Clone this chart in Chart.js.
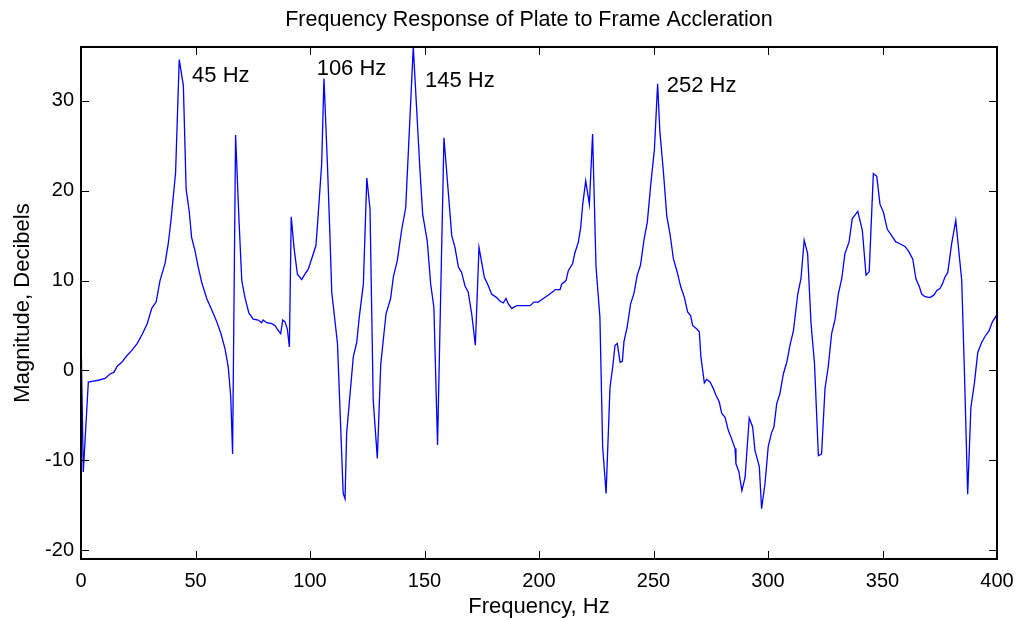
<!DOCTYPE html>
<html>
<head>
<meta charset="utf-8">
<script src="https://cdn.jsdelivr.net/npm/chart.js@4/dist/chart.umd.min.js"></script>
<style>
html,body{margin:0;padding:0;background:#fff;}
#wrap{width:1020px;height:620px;}
</style>
</head>
<body>
<div id="wrap"><canvas id="c" width="1020" height="620"></canvas></div>
<script>
const titleText = "Frequency Response of Plate to Frame Accleration";
const xTitle = "Frequency, Hz";
const yTitle = "Magnitude, Decibels";
const xTicks = [0, 50, 100, 150, 200, 250, 300, 350, 400];
const yTicks = [-20, -10, 0, 10, 20, 30];

const freq = [0,1,3.2,5.4,7.6,10.5,12.7,14.4,15.9,17.8,19.9,22.1,24.6,26.9,28.9,30.9,32.8,34.5,36.7,38.1,39.3,41.3,42.9,44.7,45.9,47.3,48.3,49.8,51.2,52.7,54.9,57.5,59.3,61.1,62.9,64.3,65.4,66.2,67.5,69.0,70.2,71.6,73.3,75.2,77.4,78.9,79.5,81.1,83.3,84.7,85.7,87.2,88.1,89.1,90.1,91.0,91.8,93.0,94.5,96.4,97.5,99.3,100.7,102.6,103.4,105.1,106.1,107.6,108.6,109.5,112.0,114.5,115.3,116.0,118.9,120.4,121.5,123.3,124.8,126.2,127.6,129.4,130.9,133.2,135.2,136.4,138.1,140.0,141.8,145.1,148.0,149.2,151.2,152.7,154.1,155.7,158.5,161.9,163.3,164.8,166.2,167.7,169.1,170.6,172.2,173.8,176.1,177.9,179.3,181.5,183.0,184.4,185.6,186.6,188.1,190.3,196.1,197.8,199.7,201.9,204.1,206.3,207.0,209.2,209.9,211.8,212.8,214.7,215.7,217.2,218.2,219.1,220.4,222.0,223.4,224.9,226.6,227.8,229.3,231.0,232.2,233.2,234.2,235.4,236.4,237.1,238.5,240.0,241.5,242.9,244.3,245.9,247.3,248.8,250.4,251.8,252.8,254.3,255.8,257.2,258.7,260.4,261.9,263.5,264.9,266.2,267.1,268.9,270.0,270.7,272.2,273.2,274.7,276.1,277.3,278.7,279.8,281.2,282.7,284.1,285.6,286.0,287.3,288.6,290.0,291.8,293.3,294.3,296.2,297.2,298.7,300.1,301.6,302.6,303.8,305.2,306.7,308.2,309.6,311.1,313.0,314.4,315.8,317.3,318.8,320.3,322.0,323.4,324.9,326.3,327.8,329.3,330.7,332.2,333.6,335.4,336.8,337.7,339.2,341.2,342.8,344.2,346.0,347.5,348.9,350.4,352.1,354.0,355.8,357.6,359.8,361.3,363.2,364.6,366.1,367.1,368.6,370.7,372.5,373.7,375.1,376.1,377.3,378.5,380.2,382.0,384.6,385.8,387.2,388.6,390.1,391.6,393.3,394.8,396.5,398.0,400.0];

const magnitude = [4.1,-11.3,-1.3,-1.2,-1.1,-0.9,-0.4,-0.2,0.5,0.9,1.6,2.2,3.0,4.1,5.2,6.9,7.6,10.0,11.9,14.1,16.7,22.0,34.6,31.7,20.2,17.6,14.8,13.3,11.5,9.8,8.0,6.5,5.4,4.1,2.4,0.4,-3.0,-9.3,26.2,16.7,10.0,8.1,6.4,5.7,5.6,5.3,5.6,5.3,5.2,5.0,4.6,4.1,5.6,5.4,4.6,2.6,17.1,13.7,10.7,10.1,10.6,11.3,12.4,13.9,16.7,23.0,32.5,23.0,15.8,8.7,3.0,-13.7,-14.3,-7.0,1.5,3.1,5.9,9.6,21.4,18.0,-3.3,-9.8,0.7,6.3,8.0,10.4,12.2,15.6,18.1,36.0,22.4,17.4,14.4,9.6,7.0,-8.3,25.9,15.0,13.7,11.5,10.9,9.4,8.7,6.3,2.8,13.7,10.4,9.4,8.5,8.1,7.7,7.5,8.0,7.4,6.9,7.2,7.2,7.6,7.6,8.0,8.4,8.8,9.0,9.0,9.6,10.0,11.1,11.9,13.1,14.3,15.9,18.5,21.1,18.5,26.3,11.5,5.9,-8.5,-13.7,-1.9,0.4,2.8,3.0,0.9,1.0,3.2,4.8,7.4,8.6,10.6,11.7,14.6,16.5,20.7,24.6,31.9,26.5,22.2,17.2,15.2,12.4,10.9,9.3,8.1,6.5,6.1,5.0,4.6,4.3,1.5,-1.4,-1.0,-1.3,-2.0,-2.8,-3.5,-4.8,-5.2,-6.7,-7.6,-8.7,-10.4,-11.3,-13.4,-11.9,-5.3,-6.3,-8.9,-10.7,-15.4,-12.6,-8.5,-6.9,-6.3,-3.7,-2.6,-0.4,0.9,2.8,4.4,8.5,10.2,14.5,13.0,5.2,0.8,-9.5,-9.3,-2.0,0.4,4.1,5.7,8.5,10.2,13.0,14.3,16.9,17.2,17.7,15.6,10.6,11.0,21.9,21.6,18.5,17.6,15.7,15.0,14.3,14.1,13.8,13.3,12.4,10.2,9.3,8.5,8.2,8.1,8.4,8.9,9.1,9.6,10.4,10.9,14.1,16.7,10.0,-0.4,-13.8,-4.1,-1.5,2.0,3.1,3.8,4.4,5.4,6.2];

const peakLabels = ["45 Hz", "106 Hz", "145 Hz", "252 Hz"];
const peakLabelX = [48.5, 102.9, 150.2, 255.8];
const peakLabelY = [32.1, 32.9, 31.6, 31.0];

const FONT = "'Liberation Sans', Arial, Helvetica, sans-serif";
Chart.defaults.font.family = FONT;
Chart.defaults.color = '#000';

const points = freq.map((f, i) => ({x: f, y: magnitude[i]}));

const framePlugin = {
  id: 'frame',
  afterDatasetsDraw(chart) {
    const {ctx, chartArea: {left, right, top, bottom}, scales: {x, y}} = chart;
    ctx.save();
    ctx.strokeStyle = '#000';
    ctx.lineWidth = 1;
    const tl = 8;
    ctx.beginPath();
    xTicks.forEach(v => {
      const px = Math.round(x.getPixelForValue(v)) + 0.5;
      ctx.moveTo(px, bottom); ctx.lineTo(px, bottom - tl);
      ctx.moveTo(px, top); ctx.lineTo(px, top + tl);
    });
    yTicks.forEach(v => {
      const py = Math.round(y.getPixelForValue(v)) + 0.5;
      ctx.moveTo(left, py); ctx.lineTo(left + tl, py);
      ctx.moveTo(right, py); ctx.lineTo(right - tl, py);
    });
    ctx.stroke();
    ctx.lineWidth = 2;
    ctx.strokeRect(left, top, right - left, bottom - top);

    ctx.fillStyle = '#000';
    ctx.font = "22px " + FONT;
    ctx.textAlign = 'left';
    ctx.textBaseline = 'alphabetic';
    peakLabels.forEach((t, i) => {
      ctx.fillText(t, x.getPixelForValue(peakLabelX[i]), y.getPixelForValue(peakLabelY[i]));
    });

    ctx.font = "21.5px " + FONT;
    ctx.textAlign = 'center';
    ctx.textBaseline = 'middle';
    ctx.fillText(titleText, 529, 20);
    ctx.restore();
  }
};

new Chart(document.getElementById('c'), {
  type: 'line',
  data: {
    datasets: [{
      data: points,
      borderColor: '#0000ff',
      borderWidth: 1.3,
      pointRadius: 0,
      tension: 0,
      fill: false
    }]
  },
  options: {
    responsive: false,
    animation: false,
    layout: {padding: {left: 0, right: 23, top: 47, bottom: 0}},
    plugins: {legend: {display: false}, tooltip: {enabled: false}, title: {display: false}},
    scales: {
      x: {
        type: 'linear', min: 0, max: 400,
        afterBuildTicks: s => { s.ticks = xTicks.map(v => ({value: v})); },
        afterFit: s => { s.height = 61; s.paddingLeft = 0; s.paddingRight = 0; },
        grid: {display: false, drawTicks: false},
        border: {display: false},
        ticks: {font: {size: 20}, color: '#000', padding: 10, maxRotation: 0, autoSkip: false},
        title: {display: true, text: xTitle, font: {size: 22}, color: '#000', padding: {top: 0, bottom: 0}}
      },
      y: {
        type: 'linear', min: -21, max: 36,
        afterBuildTicks: s => { s.ticks = yTicks.map(v => ({value: v})); },
        afterFit: s => { s.width = 81; s.paddingTop = 0; s.paddingBottom = 0; },
        grid: {display: false, drawTicks: false},
        border: {display: false},
        ticks: {font: {size: 20}, color: '#000', padding: 7, autoSkip: false},
        title: {display: true, text: yTitle, font: {size: 22}, color: '#000', padding: {top: 10, bottom: 0}}
      }
    }
  },
  plugins: [framePlugin]
});
</script>
</body>
</html>
